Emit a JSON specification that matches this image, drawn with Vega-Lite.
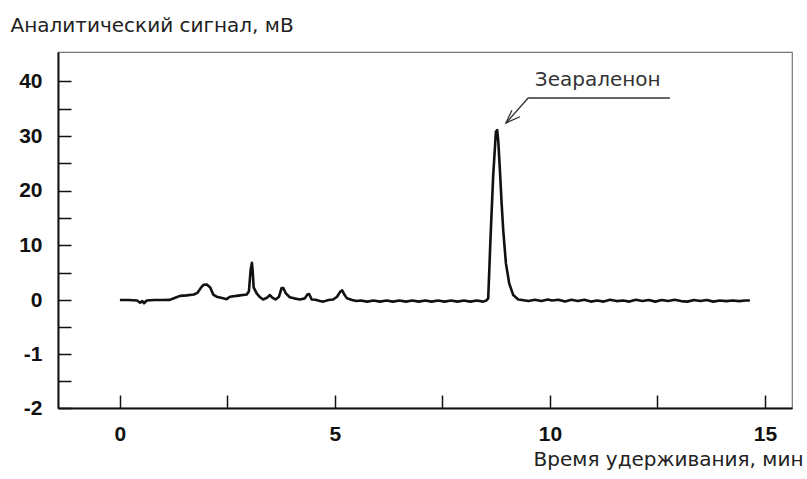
{
  "$schema": "https://vega.github.io/schema/vega-lite/v6.json",
  "autosize": "none",
  "width": 734,
  "height": 356,
  "padding": {"left": 58, "top": 52, "right": 15, "bottom": 71},
  "background": "white",
  "config": {
    "view": {"stroke": "#777777", "strokeWidth": 1.2},
    "axis": {
      "domainColor": "#111111",
      "domainWidth": 2,
      "grid": false,
      "tickColor": "#111111",
      "tickWidth": 1.5,
      "tickSize": -13,
      "labelFont": "Liberation Sans",
      "labelFontWeight": "bold",
      "labelFontSize": 21,
      "labelColor": "#111111",
      "labelPadding": 29,
      "titleFont": "DejaVu Sans",
      "titleFontWeight": "normal",
      "titleFontSize": 20,
      "titleColor": "#222222"
    }
  },
  "datasets": {
    "signal": [
      {"t": 0.00, "v": 0.00}, {"t": 0.20, "v": 0.00}, {"t": 0.40, "v": -0.01}, {"t": 0.47, "v": -0.05},
      {"t": 0.52, "v": -0.02}, {"t": 0.56, "v": -0.06}, {"t": 0.62, "v": -0.01}, {"t": 0.80, "v": 0.00},
      {"t": 1.00, "v": 0.00}, {"t": 1.16, "v": 0.02}, {"t": 1.30, "v": 0.45}, {"t": 1.40, "v": 0.75},
      {"t": 1.55, "v": 0.85}, {"t": 1.72, "v": 1.00}, {"t": 1.80, "v": 1.30}, {"t": 1.88, "v": 2.20},
      {"t": 1.95, "v": 2.80}, {"t": 2.02, "v": 2.85}, {"t": 2.10, "v": 2.30}, {"t": 2.17, "v": 1.00},
      {"t": 2.25, "v": 0.60}, {"t": 2.40, "v": 0.30}, {"t": 2.48, "v": 0.15}, {"t": 2.56, "v": 0.60},
      {"t": 2.75, "v": 0.80}, {"t": 2.95, "v": 1.00}, {"t": 3.00, "v": 1.60}, {"t": 3.04, "v": 5.50},
      {"t": 3.07, "v": 6.80}, {"t": 3.09, "v": 5.00}, {"t": 3.11, "v": 2.30}, {"t": 3.18, "v": 1.20},
      {"t": 3.26, "v": 0.50}, {"t": 3.33, "v": 0.10}, {"t": 3.42, "v": 0.40}, {"t": 3.49, "v": 0.90},
      {"t": 3.55, "v": 0.40}, {"t": 3.62, "v": 0.10}, {"t": 3.70, "v": 0.60}, {"t": 3.76, "v": 2.20},
      {"t": 3.80, "v": 2.20}, {"t": 3.86, "v": 1.20}, {"t": 3.95, "v": 0.50}, {"t": 4.05, "v": 0.30},
      {"t": 4.19, "v": 0.10}, {"t": 4.30, "v": 0.30}, {"t": 4.36, "v": 1.00}, {"t": 4.40, "v": 1.10},
      {"t": 4.46, "v": 0.10}, {"t": 4.55, "v": 0.05}, {"t": 4.65, "v": -0.02}, {"t": 4.73, "v": -0.03},
      {"t": 4.85, "v": 0.00}, {"t": 4.96, "v": 0.10}, {"t": 5.05, "v": 0.60}, {"t": 5.12, "v": 1.50},
      {"t": 5.17, "v": 1.75}, {"t": 5.22, "v": 1.00}, {"t": 5.28, "v": 0.30}, {"t": 5.40, "v": 0.00},
      {"t": 5.50, "v": -0.02}, {"t": 5.60, "v": -0.01}, {"t": 5.75, "v": -0.03}, {"t": 5.90, "v": -0.01},
      {"t": 6.05, "v": -0.03}, {"t": 6.20, "v": -0.01}, {"t": 6.35, "v": -0.03}, {"t": 6.50, "v": -0.01},
      {"t": 6.65, "v": -0.03}, {"t": 6.80, "v": -0.01}, {"t": 6.95, "v": -0.03}, {"t": 7.10, "v": -0.01},
      {"t": 7.25, "v": -0.03}, {"t": 7.40, "v": -0.01}, {"t": 7.55, "v": -0.03}, {"t": 7.70, "v": -0.01},
      {"t": 7.85, "v": -0.03}, {"t": 8.00, "v": -0.01}, {"t": 8.15, "v": -0.03}, {"t": 8.30, "v": -0.01},
      {"t": 8.45, "v": -0.03}, {"t": 8.52, "v": -0.01}, {"t": 8.565, "v": 0.30}, {"t": 8.62, "v": 11.6},
      {"t": 8.68, "v": 22.6}, {"t": 8.744, "v": 30.8}, {"t": 8.774, "v": 31.1}, {"t": 8.80, "v": 29.0},
      {"t": 8.837, "v": 23.8}, {"t": 8.877, "v": 17.7}, {"t": 8.914, "v": 12.8}, {"t": 8.977, "v": 6.7},
      {"t": 9.053, "v": 3.05}, {"t": 9.147, "v": 0.90}, {"t": 9.263, "v": 0.10}, {"t": 9.35, "v": 0.00},
      {"t": 9.50, "v": -0.02}, {"t": 9.65, "v": 0.03}, {"t": 9.80, "v": -0.02}, {"t": 9.95, "v": 0.08},
      {"t": 10.05, "v": -0.01}, {"t": 10.20, "v": 0.05}, {"t": 10.35, "v": -0.03}, {"t": 10.50, "v": 0.03},
      {"t": 10.65, "v": -0.02}, {"t": 10.80, "v": 0.05}, {"t": 10.95, "v": -0.03}, {"t": 11.10, "v": -0.01},
      {"t": 11.25, "v": -0.03}, {"t": 11.40, "v": 0.03}, {"t": 11.55, "v": -0.02}, {"t": 11.70, "v": -0.01},
      {"t": 11.85, "v": -0.03}, {"t": 12.00, "v": 0.03}, {"t": 12.15, "v": -0.02}, {"t": 12.30, "v": 0.01},
      {"t": 12.45, "v": -0.03}, {"t": 12.60, "v": 0.00}, {"t": 12.75, "v": -0.02}, {"t": 12.90, "v": 0.03},
      {"t": 13.05, "v": -0.02}, {"t": 13.20, "v": -0.03}, {"t": 13.35, "v": 0.01}, {"t": 13.50, "v": -0.02},
      {"t": 13.65, "v": 0.00}, {"t": 13.80, "v": -0.03}, {"t": 13.95, "v": -0.01}, {"t": 14.10, "v": -0.02},
      {"t": 14.25, "v": -0.01}, {"t": 14.40, "v": -0.02}, {"t": 14.55, "v": -0.01}, {"t": 14.65, "v": -0.01}
    ],
    "arrow": [
      {"seg": "leader", "o": 1, "t": 12.79, "v": 36.98},
      {"seg": "leader", "o": 2, "t": 9.495, "v": 36.98},
      {"seg": "leader", "o": 3, "t": 8.977, "v": 32.40},
      {"seg": "head", "o": 1, "t": 9.116, "v": 34.74},
      {"seg": "head", "o": 2, "t": 8.977, "v": 32.40},
      {"seg": "head", "o": 3, "t": 9.302, "v": 33.55}
    ],
    "labels": [
      {"t": 9.65, "v": 40.3, "label": "Зеараленон"}
    ]
  },
  "encoding": {
    "x": {
      "field": "t",
      "type": "quantitative",
      "scale": {"domain": [-1.44, 15.63], "nice": false, "zero": false},
      "axis": {
        "values": [0, 2.5, 5, 7.5, 10, 12.5, 15],
        "labelExpr": "indexof([0,5,10,15], datum.value) >= 0 ? toString(datum.value) : ''",
        "labelPadding": 28,
        "title": "Время удерживания, мин",
        "titleAlign": "right",
        "titleAnchor": null,
        "titleX": 745,
        "titleY": 51,
        "titleBaseline": "middle"
      }
    },
    "y": {
      "field": "v",
      "type": "quantitative",
      "scale": {"type": "linear", "domain": [-2, 0, 45.4], "range": [356, 248, 0], "nice": false, "zero": false},
      "axis": {
        "values": [-2, -1.5, -1, -0.5, 0, 5, 10, 15, 20, 25, 30, 35, 40],
        "labelExpr": "indexof([-2,-1,0,10,20,30,40], datum.value) >= 0 ? toString(datum.value) : ''",
        "title": "Аналитический сигнал, мВ",
        "titleAngle": 0,
        "titleAlign": "left",
        "titleAnchor": null,
        "titleX": -48,
        "titleY": -27,
        "titleBaseline": "middle"
      }
    }
  },
  "layer": [
    {
      "data": {"name": "signal"},
      "mark": {"type": "line", "color": "#111111", "strokeWidth": 2.6, "strokeJoin": "round"},
      "encoding": {"order": {"field": "t", "type": "quantitative"}}
    },
    {
      "data": {"name": "arrow"},
      "mark": {"type": "line", "color": "#333333", "strokeWidth": 1.3},
      "encoding": {
        "detail": {"field": "seg", "type": "nominal"},
        "order": {"field": "o", "type": "quantitative"}
      }
    },
    {
      "data": {"name": "labels"},
      "mark": {"type": "text", "align": "left", "baseline": "middle", "font": "DejaVu Sans", "fontSize": 20, "color": "#333333"},
      "encoding": {"text": {"field": "label", "type": "nominal"}}
    }
  ]
}
